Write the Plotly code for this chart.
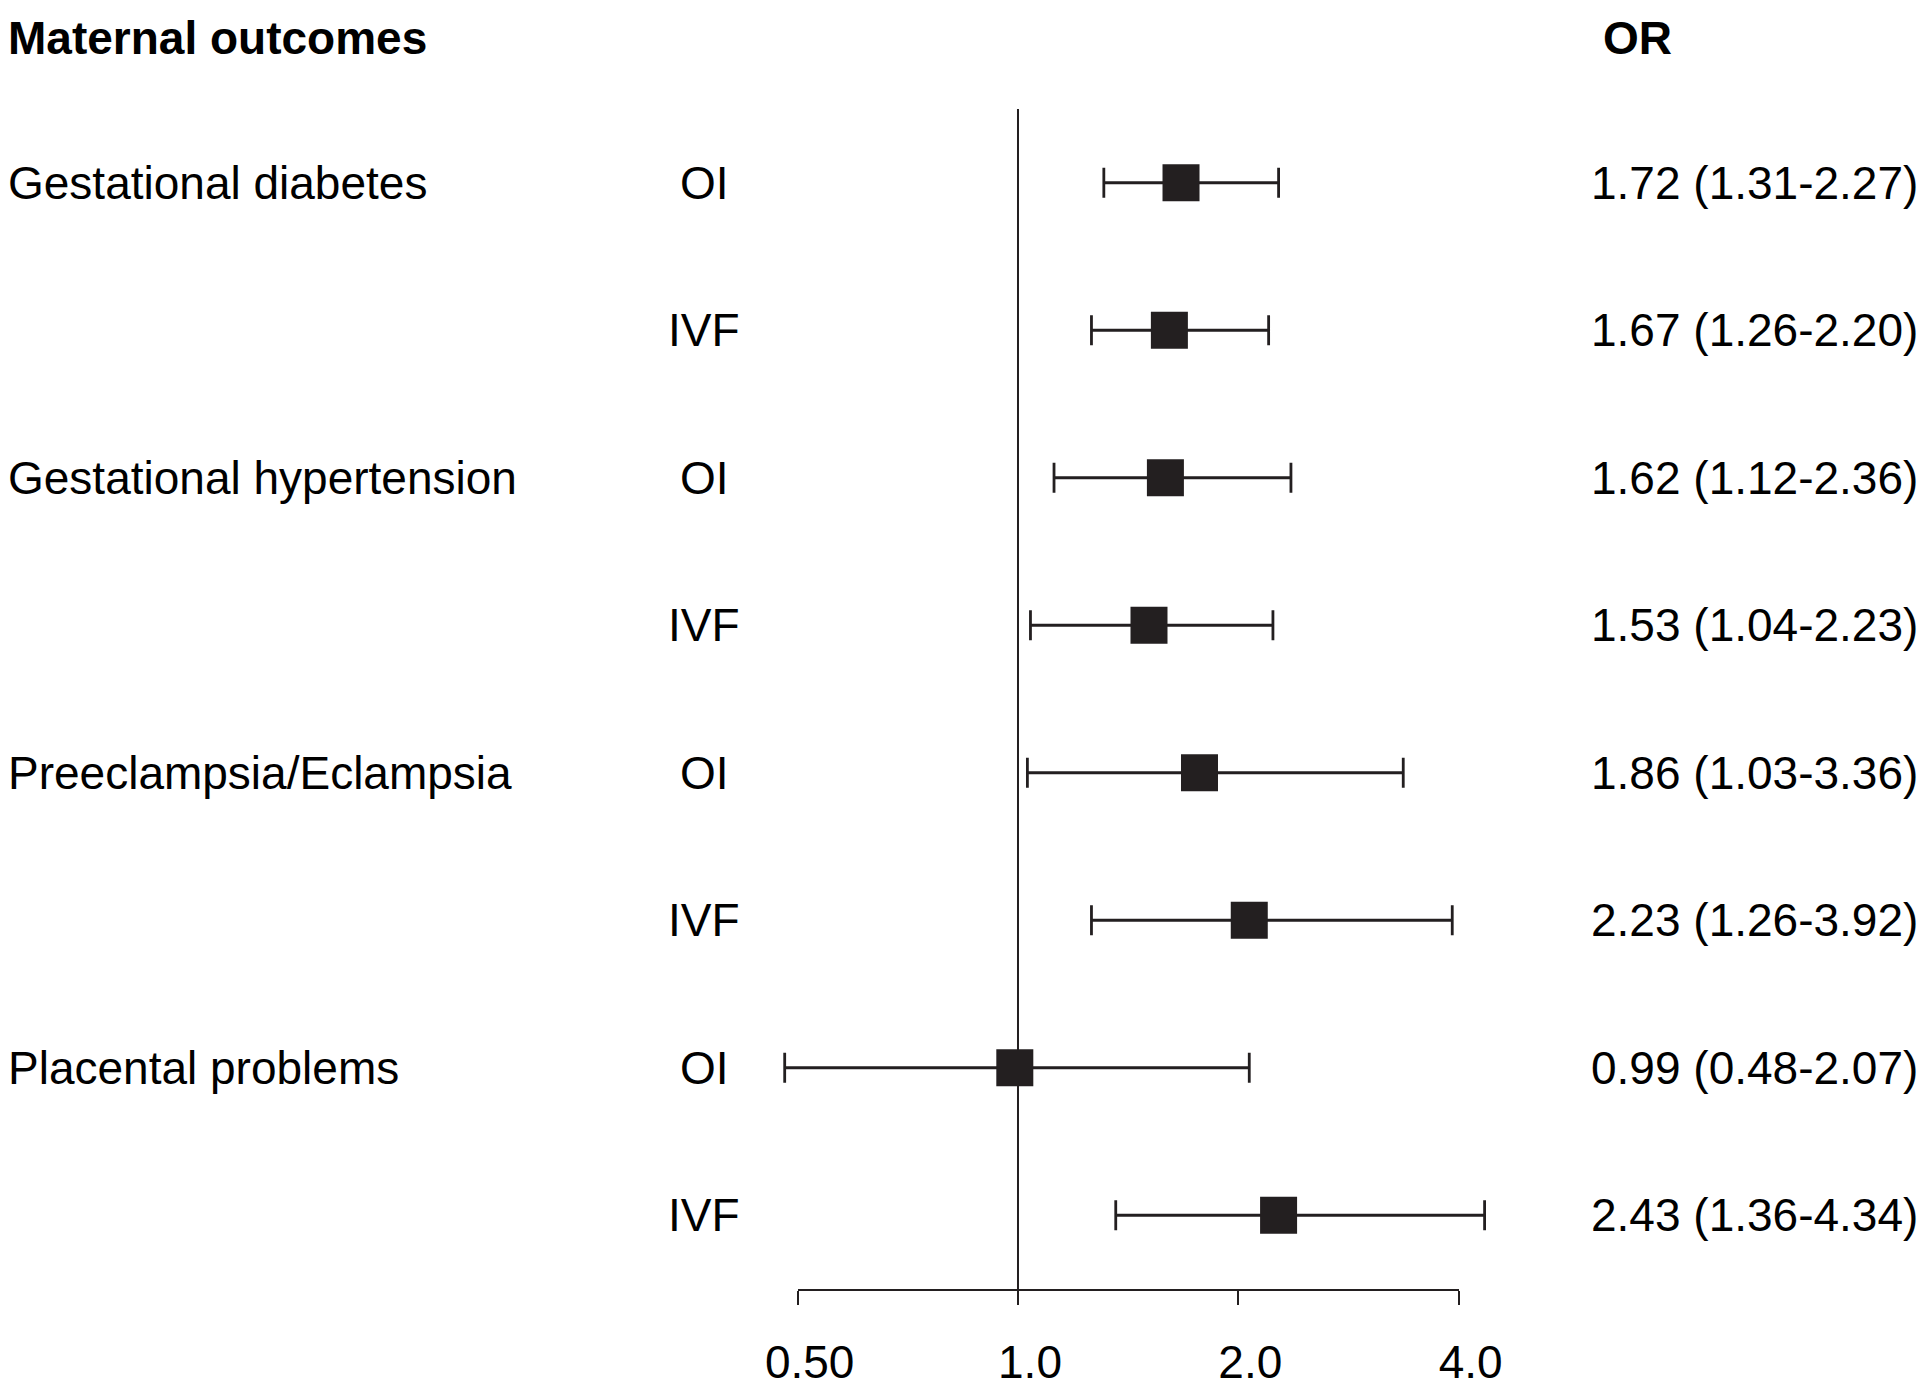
"""Forest plot of maternal outcomes (OI / IVF odds ratios)."""

import math

import plotly.graph_objects as go

# --- data -------------------------------------------------------------------
outcomes = [
    "Gestational diabetes",
    "Gestational hypertension",
    "Preeclampsia/Eclampsia",
    "Placental problems",
]
groups = ["OI", "IVF", "OI", "IVF", "OI", "IVF", "OI", "IVF"]
or_est = [1.72, 1.67, 1.62, 1.53, 1.86, 2.23, 0.99, 2.43]
ci_low = [1.31, 1.26, 1.12, 1.04, 1.03, 1.26, 0.48, 1.36]
ci_high = [2.27, 2.20, 2.36, 2.23, 3.36, 3.92, 2.07, 4.34]
# squares sit where the source figure drew them
box_x = [1.67, 1.61, 1.59, 1.51, 1.77, 2.07, 0.99, 2.27]
tick_vals = [0.5, 1, 2, 4]
tick_text = ["0.50", "1.0", "2.0", "4.0"]

# --- geometry (pixels of the 1932x1388 window) ------------------------------
W, H = 1932, 1388
OFF = 8                      # default body margin of the html page
FW, FH = W - OFF, H - OFF
INK = "#231f20"
FONT = "Liberation Sans, Arial, sans-serif"
FS = 46


def fx(p):
    return (p - OFF) / FW


def fy(p):
    return 1 - (p - OFF) / FH


ref_px = 1018.0                 # x pixel of OR = 1
per_doubling = (1459 - 798) / 3


def px(v):
    return ref_px + per_doubling * math.log2(v)


data_lo, data_hi = 0.4, 5.0
dom_data = [fx(px(data_lo)), fx(px(data_hi))]
dom_axis = [fx(px(0.5)), fx(px(4))]
y_dom = [fy(1289), fy(109)]

rows = list(range(len(groups)))

fig = go.Figure()

# reference line at OR = 1
fig.add_trace(go.Scatter(
    x=[1, 1], y=[-0.5, len(groups) - 0.5], mode="lines",
    line=dict(color=INK, width=2), hoverinfo="skip", showlegend=False,
))

fig.add_trace(go.Scatter(
    x=box_x, y=rows, mode="markers",
    marker=dict(symbol="square", size=37, color=INK, line=dict(width=0)),
    error_x=dict(
        type="data", symmetric=False,
        array=[h - b for h, b in zip(ci_high, box_x)],
        arrayminus=[b - l for b, l in zip(box_x, ci_low)],
        color=INK, thickness=2.8, width=15,
    ),
    showlegend=False,
))

annotations = []
txt = dict(family=FONT, size=FS, color="black")
for i, name in enumerate(outcomes):
    annotations.append(dict(
        x=fx(6), xref="paper", y=rows[2 * i], yref="y", text=name,
        xanchor="left", yanchor="middle", showarrow=False, font=txt,
    ))
for r, g, e, lo, hi in zip(rows, groups, or_est, ci_low, ci_high):
    annotations.append(dict(
        x=fx(704), xref="paper", y=r, yref="y", text=g,
        xanchor="center", yanchor="middle", showarrow=False, font=txt,
    ))
    annotations.append(dict(
        x=fx(1920), xref="paper", y=r, yref="y",
        text=f"{e:.2f} ({lo:.2f}-{hi:.2f})",
        xanchor="right", yanchor="middle", showarrow=False, font=txt,
    ))
annotations.append(dict(
    x=fx(6), xref="paper", y=fy(38), yref="paper",
    text="<b>Maternal outcomes</b>", xanchor="left", yanchor="middle",
    showarrow=False, font=txt,
))
annotations.append(dict(
    x=fx(1601), xref="paper", y=fy(38), yref="paper",
    text="<b>OR</b>", xanchor="left", yanchor="middle",
    showarrow=False, font=txt,
))

fig.update_layout(
    width=FW, height=FH,
    margin=dict(l=0, r=0, t=0, b=0, autoexpand=False),
    paper_bgcolor="white", plot_bgcolor="rgba(0,0,0,0)",
    font=txt,
    xaxis=dict(
        type="log", domain=dom_data, automargin=False,
        range=[math.log10(data_lo), math.log10(data_hi)],
        showline=False, showgrid=False, zeroline=False,
        showticklabels=False, ticks="",
    ),
    xaxis2=dict(
        type="log", domain=dom_axis, anchor="y", automargin=False,
        range=[math.log10(0.5), math.log10(4)],
        showline=True, linecolor=INK, linewidth=2,
        ticks="outside", ticklen=14, tickwidth=2, tickcolor=INK,
        tickvals=tick_vals, ticktext=tick_text,
        tickfont=dict(family=FONT, size=FS, color="black"),
        ticklabelshift=12, ticklabelstandoff=18,
        showgrid=False, zeroline=False,
    ),
    yaxis=dict(
        domain=y_dom, range=[len(groups) - 0.5, -0.5], automargin=False,
        visible=False, showgrid=False, zeroline=False,
    ),
    annotations=annotations,
)

# keep the lower axis subplot alive
fig.add_trace(go.Scatter(
    x=tick_vals, y=[0] * len(tick_vals), xaxis="x2", yaxis="y",
    mode="markers", marker=dict(opacity=0), hoverinfo="skip", showlegend=False,
))

fig.write_html("out.html")
